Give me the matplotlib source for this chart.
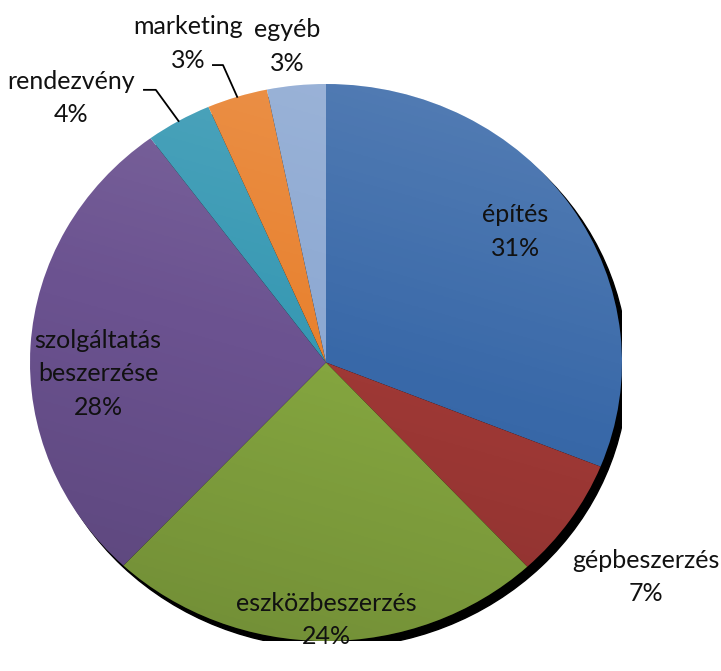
import numpy as np
import matplotlib
matplotlib.use("Agg")
import matplotlib.pyplot as plt
from matplotlib.patches import Ellipse, Circle

# data (shares in %, clockwise from 12 o'clock)
categories = ["építés", "gépbeszerzés", "eszközbeszerzés", "szolgáltatás\nbeszerzése",
              "rendezvény", "marketing", "egyéb"]
shares = [31.1, 7.0, 23.9, 27.9, 3.6, 3.3, 3.2]

colors = ["#3868A8", "#9E3835", "#84A53F", "#6B5290", "#3698B3", "#E8812E", "#8CA8D2"]

# label positions (data coords, pie radius = 1) and which get a leader line
label_pos = [(0.64, 0.47), (1.08, -0.77), (0.0, -0.925), (-0.77, -0.04),
             (-0.86, 0.95), (-0.465, 1.145), (-0.13, 1.135)]
leader_elbow = {4: (-0.575, 0.979), 5: (-0.348, 1.068)}
leader_start = {4: (-0.615, 0.979), 5: (-0.382, 1.068)}

plt.rcParams['font.family'] = ['Lato', 'DejaVu Sans']

fig = plt.figure(figsize=(7.21, 6.71), dpi=100)
ax = fig.add_axes([30 / 721, 1 - 641 / 671, 592 / 721, 557 / 671])

# drop shadow
ax.add_patch(Ellipse((0.02, -0.025), 2.0, 2.0, color="black", zorder=0))

wedges, _ = ax.pie(shares, colors=colors, startangle=90, counterclock=False,
                   radius=1, wedgeprops=dict(linewidth=0, zorder=1))
ax.set_aspect('auto')

# soft top-light / bottom-dark shading over the pie
yy = np.linspace(1, -1, 256)[:, None] * np.ones((1, 256))
xx = np.ones((256, 1)) * np.linspace(-1, 1, 256)[None, :]
shade = np.zeros((256, 256, 4))
t = (yy + xx * 0.3)
shade[..., :3] = np.where(t[..., None] > 0, 1.0, 0.0)
shade[..., 3] = np.clip(np.abs(t) * 0.12, 0, 0.2)
clip = Circle((0, 0), 1, transform=ax.transData)
im = ax.imshow(shade, extent=[-1, 1, -1, 1], zorder=2, aspect='auto')
im.set_clip_path(clip)
ax.set_xlim(-1, 1)
ax.set_ylim(-1, 1)
ax.axis('off')

total = sum(shares)
for i, (w, cat, val) in enumerate(zip(wedges, categories, shares)):
    pct = int(round(val / total * 100))
    x, y = label_pos[i]
    ax.text(x, y, f"{cat}\n{pct}%", ha='center', va='center', fontsize=18,
            linespacing=1.55, color="#111111", zorder=5, clip_on=False)
    if i in leader_elbow:
        mid = np.deg2rad((w.theta1 + w.theta2) / 2)
        ex, ey = np.cos(mid), np.sin(mid)
        sx, sy = leader_start[i]
        bx, by = leader_elbow[i]
        ax.plot([sx, bx, ex], [sy, by, ey], color="black", lw=1.3, zorder=5,
                clip_on=False)

fig.savefig("out.png", dpi=100)
